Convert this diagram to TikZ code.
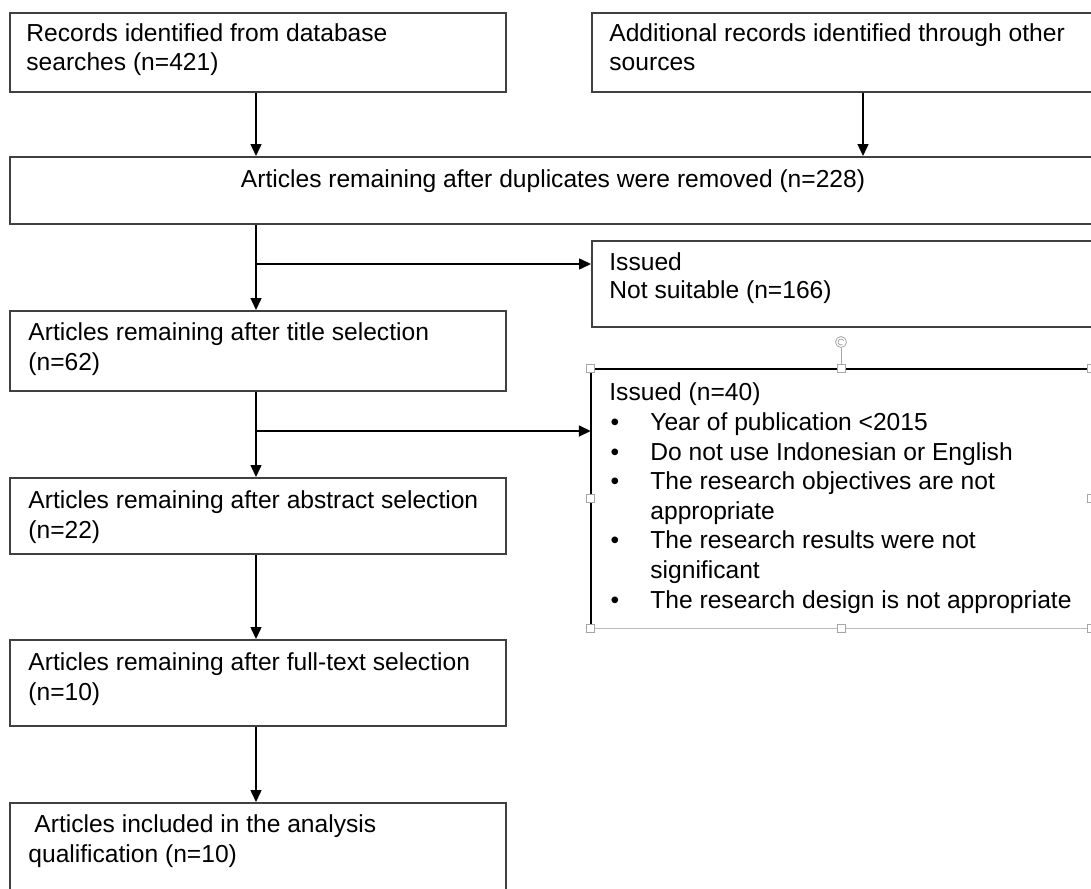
\documentclass[tikz,border=0pt]{standalone}
\usepackage{fontspec}
\setmainfont{Liberation Sans}
\usetikzlibrary{arrows.meta,fit}
\definecolor{boxc}{HTML}{404040}
\begin{document}
\begin{tikzpicture}[x=0.5pt,y=-0.5pt,
  box/.style={draw=boxc, line width=1pt, inner sep=0pt},
  txt/.style={anchor=base west, inner sep=0pt, align=left, font=\fontsize{12.3}{14.8}\selectfont},
  arr/.style={draw=black, line width=0.75pt, -{Triangle[width=5.5pt,length=6pt]}},
  handle/.style={draw=gray!70, fill=white, line width=0.4pt, minimum size=4pt, inner sep=0pt, outer sep=0pt}
]
\useasboundingbox (0,0) rectangle (1091,888);

% boxes
\node[box, fit={(10,13) (506,92)}] (b1) {};
\node[box, fit={(592,13) (1100,92)}] (b2) {};
\node[box, fit={(10,157) (1100,224)}] (b3) {};
\node[box, fit={(10,311) (506,391)}] (b4) {};
\node[box, fit={(592,241) (1100,327)}] (b5) {};
\node[box, fit={(10,478) (506,554)}] (b6) {};
\node[inner sep=0pt, outer sep=0.6pt, fit={(592,370) (1090,627)}] (b7) {};
\node[box, fit={(10,640) (506,726)}] (b8) {};
\node[box, fit={(10,803) (506,900)}] (b9) {};

% selected box borders
\draw[gray!55, line width=0.5pt] (b7.north east) -- (b7.south east) -- (b7.south west);
\draw[black, line width=1.3pt] (b7.south west) -- (b7.north west) -- (b7.north east);

% texts
\node[txt] (t1) at (26,71) {Records identified from database\\searches (n=421)};
\node[txt] (t2) at (609,71) {Additional records identified through other\\sources};
\node[txt, anchor=base] (t3) at (553,187) {Articles remaining after duplicates were removed (n=228)};
\node[txt] (t4) at (28,370) {Articles remaining after title selection\\(n=62)};
\node[txt, font=\fontsize{12.3}{14}\selectfont] (t5) at (609,298) {Issued\\Not suitable (n=166)};
\node[txt] (t6) at (28,538) {Articles remaining after abstract selection\\(n=22)};
\node[txt] (t7) at (609,608) {Issued (n=40)\\
\makebox[20.5pt][l]{\hspace*{0.6pt}•}Year of publication <2015\\
\makebox[20.5pt][l]{\hspace*{0.6pt}•}Do not use Indonesian or English\\
\makebox[20.5pt][l]{\hspace*{0.6pt}•}The research objectives are not\\
\hspace*{20.5pt}appropriate\\
\makebox[20.5pt][l]{\hspace*{0.6pt}•}The research results were not\\
\hspace*{20.5pt}significant\\
\makebox[20.5pt][l]{\hspace*{0.6pt}•}The research design is not appropriate};
\node[txt] (t8) at (28,700) {Articles remaining after full-text selection\\(n=10)};
\node[txt] (t9) at (28,862) {\hspace*{3pt}Articles included in the analysis\\qualification (n=10)};

% connectors
\coordinate (xL) at (256,0);
\coordinate (xR) at (863,0);
\coordinate (j1) at (256,264);
\coordinate (j2) at (256,431);
\draw[arr] (b1.south -| xL) -- (b3.north -| xL);
\draw[arr] (b2.south -| xR) -- (b3.north -| xR);
\draw[arr] (b3.south -| xL) -- (b4.north -| xL);
\draw[arr] (j1) -- (b5.west |- j1);
\draw[arr] (b4.south -| xL) -- (b6.north -| xL);
\draw[arr] (j2) -- (b7.west |- j2);
\draw[arr] (b6.south -| xL) -- (b8.north -| xL);
\draw[arr] (b8.south -| xL) -- (b9.north -| xL);

% selection handles
\node[handle] (hnw) at (b7.north west) {};
\node[handle] (hn) at (b7.north) {};
\node[handle] (hne) at (b7.north east) {};
\node[handle] (hw) at (b7.west) {};
\node[handle] (he) at (b7.east) {};
\node[handle] (hsw) at (b7.south west) {};
\node[handle] (hs) at (b7.south) {};
\node[handle] (hse) at (b7.south east) {};
\node[circle, draw=gray!70, fill=white, line width=0.4pt, minimum size=5.5pt, inner sep=0pt] (rot) at (841,342) {};
\draw[gray!70, line width=0.4pt] (rot.south) -- (hn.north);
\draw[gray!80, line width=0.35pt] (rot.center) ++(2.6,-1.5) arc[start angle=-30, end angle=-300, radius=3];
\end{tikzpicture}
\end{document}
